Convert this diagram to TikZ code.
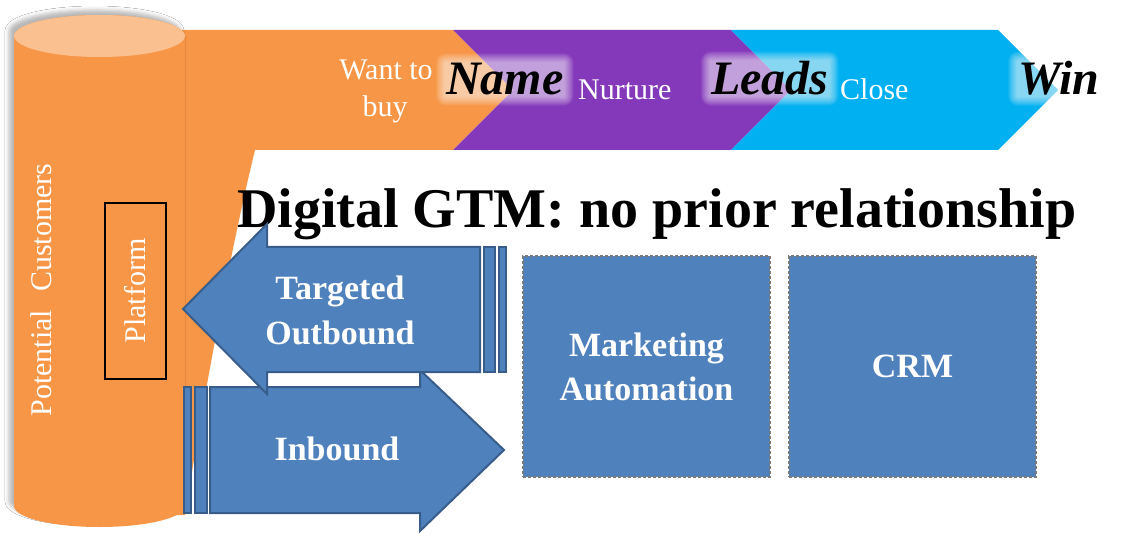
\documentclass[tikz,border=0pt]{standalone}
\usepackage{fontspec}
\setmainfont{Liberation Serif}
\usepackage{tikz}
\usetikzlibrary{calc}
\usetikzlibrary{shadows.blur}

\definecolor{custorange}{HTML}{F79646}
\definecolor{custlight}{HTML}{FAC090}
\definecolor{custedge}{HTML}{E3873F}
\definecolor{nurturepurple}{HTML}{8439BA}
\definecolor{closeblue}{HTML}{00B0F0}
\definecolor{gtmblue}{HTML}{4F81BD}
\definecolor{gtmedge}{HTML}{385D8A}
\definecolor{boxgray}{HTML}{7A7A7A}

% stage word with a soft white halo behind it
\newcommand{\glowword}[3]{%
	\node[stage word] (#1-box) at (#2) {\phantom{#3}};
	\foreach \g in {10,9,...,1}{
		\fill[white, fill opacity=0.075, rounded corners=\g pt]
		($(#1-box.south west)+(-\g,\g)$) rectangle ($(#1-box.north east)+(\g,-\g)$);
	}
	\node[stage word] (#1) at (#2) {#3};
}

\begin{document}
\begin{tikzpicture}[x=1pt,y=-1pt,
		stage word/.style={font=\fontsize{48}{48}\selectfont\bfseries\itshape, anchor=base west, inner sep=0pt},
		stage note/.style={text=white, font=\fontsize{30}{30}\selectfont, inner sep=0pt},
		arrow body/.style={fill=gtmblue, draw=gtmedge, line width=2pt, line join=miter},
		arrow label/.style={text=white, font=\fontsize{34}{34}\selectfont\bfseries, anchor=base, inner sep=0pt},
		tool box/.style={fill=gtmblue, draw=boxgray, line width=2.5pt, dash pattern=on 3pt off 2pt,
			minimum width=247, minimum height=221, text=white, align=center,
			font=\fontsize{34}{44}\selectfont\bfseries}]
		
		\path[use as bounding box, fill=white] (0,0) rectangle (1135,537);
		
		% Funnel band: orange, purple and blue chevrons
		\begin{scope}
			\fill[custorange] (150,30) -- (453,30) -- (513,90) -- (453,150) -- (255,150)
			.. controls (228,260) and (200,420) .. (185,515) -- (150,515) -- cycle;
			\fill[nurturepurple] (453,30) -- (731,30) -- (791,90) -- (731,150) -- (453,150) -- (513,90) -- cycle;
			\fill[closeblue] (731,30) -- (998,30) -- (1058,90) -- (998,150) -- (731,150) -- (791,90) -- cycle;
		\end{scope}
		
		% Cylinder of potential customers
		\begin{scope}
			\path[fill=custorange,
			blur shadow={shadow xshift=-5pt, shadow yshift=5pt, shadow blur radius=4pt, shadow opacity=28}]
			(14,36) -- (14,506) arc[start angle=180, end angle=0, x radius=85.5, y radius=21]
			-- (185,36) arc[start angle=360, end angle=180, x radius=85.5, y radius=21] -- cycle;
			\draw[custedge, line width=0.8pt] (185,36) -- (185,506);
			\fill[custlight] (99.5,36) ellipse[x radius=85.5, y radius=21];
			
			\node[stage note, rotate=90] (customers) at (41,290) {Potential\hspace{0.6em}Customers};
			\node[stage note, rotate=90, draw=black, line width=1.5pt, text=white,
			minimum width=176, minimum height=61] (platform) at (135.5,291) {Platform};
		\end{scope}
		
		% Stage labels along the band
		\node[stage note, anchor=base] (want-1) at (386,80) {Want to};
		\node[stage note, anchor=base] (want-2) at (385,117) {buy};
		\glowword{name}{446,95}{Name}
		\node[stage note, anchor=base west] (nurture) at (578,100) {Nurture};
		\glowword{leads}{711,95}{Leads}
		\node[stage note, anchor=base west] (close) at (840,100) {Close};
		\glowword{win}{1018,95}{Win}
		
		% Title
		\node[anchor=base west, inner sep=0pt, font=\fontsize{56}{56}\selectfont\bfseries]
		(title) at (237,228) {Digital GTM: no prior relationship};
		
		% Inbound arrow (striped, pointing right)
		\draw[arrow body] (210,387) -- (420,387) -- (420,370) -- (504,450) -- (420,531) -- (420,513) -- (210,513) -- cycle;
		\draw[arrow body] (195,387) rectangle (207,513);
		\draw[arrow body] (184,387) rectangle (191,513);
		\node[arrow label] (inbound) at (337,460) {Inbound};
		
		% Targeted outbound arrow (striped, pointing left)
		\draw[arrow body] (480,247) -- (267,247) -- (267,224) -- (183,309) -- (267,394) -- (267,372) -- (480,372) -- cycle;
		\draw[arrow body] (484,247) rectangle (495,372);
		\draw[arrow body] (499,247) rectangle (506,372);
		\node[arrow label] (targeted-1) at (340,300) {Targeted};
		\node[arrow label] (targeted-2) at (340,344) {Outbound};
		
		% Tool boxes
		\node[tool box] (automation) at (646.5,366.5) {Marketing\\Automation};
		\node[tool box] (crm) at (912.5,366.5) {CRM};
		
	\end{tikzpicture}
\end{document}
